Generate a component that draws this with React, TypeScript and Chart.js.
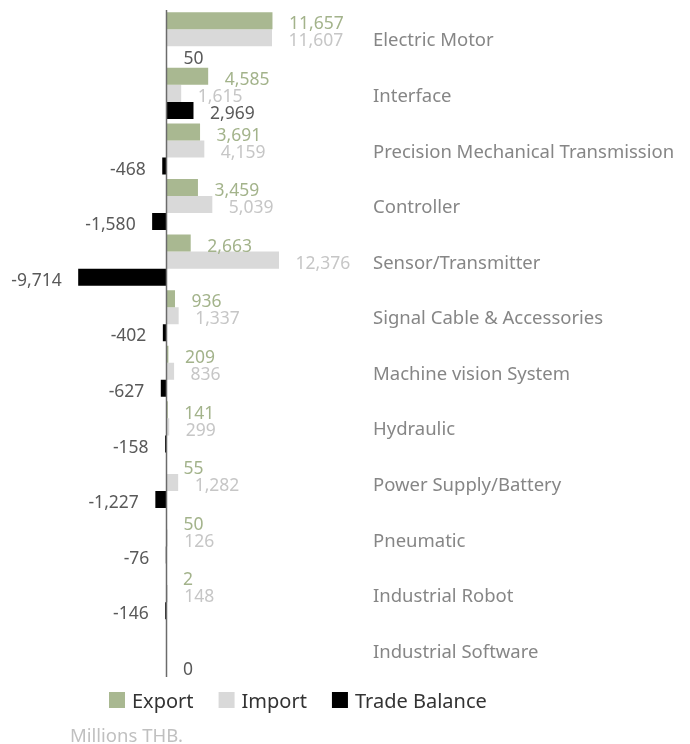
import React, { useEffect, useRef } from "react";
import { Chart, registerables } from "chart.js";

Chart.register(...registerables);

const categories = [
  "Electric Motor",
  "Interface",
  "Precision Mechanical Transmission",
  "Controller",
  "Sensor/Transmitter",
  "Signal Cable & Accessories",
  "Machine vision System",
  "Hydraulic",
  "Power Supply/Battery",
  "Pneumatic",
  "Industrial Robot",
  "Industrial Software",
];

const exportValues: (number | null)[] = [11657, 4585, 3691, 3459, 2663, 936, 209, 141, 55, 50, 2, null];
const importValues: (number | null)[] = [11607, 1615, 4159, 5039, 12376, 1337, 836, 299, 1282, 126, 148, null];
const balanceValues: (number | null)[] = [50, 2969, -468, -1580, -9714, -402, -627, -158, -1227, -76, -146, 0];

const seriesNames = ["Export", "Import", "Trade Balance"];
const unitNote = "Millions THB.";

const FONT = '"Noto Sans", sans-serif';
const barColors = ["#a9b891", "#d9d9d9", "#000000"];
const labelColors = ["#a3b38b", "#c6c6c6", "#595959"];

const fmt = (v: number) => v.toLocaleString("en-US");

const overlay = {
  id: "overlay",
  afterDatasetsDraw(chart: any) {
    const ctx: CanvasRenderingContext2D = chart.ctx;
    const xs = chart.scales.x;
    const ys = chart.scales.y;
    const area = chart.chartArea;
    const zero = xs.getPixelForValue(0);
    ctx.save();

    // zero axis line
    ctx.strokeStyle = "#6b6b6b";
    ctx.lineWidth = 1.5;
    ctx.beginPath();
    ctx.moveTo(zero, area.top);
    ctx.lineTo(zero, area.bottom);
    ctx.stroke();

    // data labels
    ctx.textBaseline = "alphabetic";
    ctx.font = `17.5px ${FONT}`;
    chart.data.datasets.forEach((ds: any, di: number) => {
      const meta = chart.getDatasetMeta(di);
      ctx.fillStyle = labelColors[di];
      meta.data.forEach((el: any, i: number) => {
        const v = ds.data[i];
        if (v === null || v === undefined) return;
        const by = el.y + 8.7;
        if (v < 0) {
          ctx.textAlign = "right";
          ctx.fillText(fmt(v), el.x - 16.5, by);
        } else {
          ctx.textAlign = "left";
          ctx.fillText(fmt(v), el.x + 16.5, by);
        }
      });
    });

    // category labels
    ctx.font = `18.5px ${FONT}`;
    ctx.fillStyle = "#868686";
    ctx.textAlign = "left";
    categories.forEach((c, i) => {
      ctx.fillText(c, 373, ys.getPixelForValue(i) + 8.6);
    });

    // legend
    ctx.font = `20px ${FONT}`;
    let lx = 109;
    seriesNames.forEach((name, i) => {
      ctx.fillStyle = barColors[i];
      ctx.fillRect(lx, 692, 16, 16);
      ctx.fillStyle = "#333333";
      ctx.fillText(name, lx + 23, 708);
      lx += 23 + ctx.measureText(name).width + 25;
    });

    // unit note
    ctx.font = `18.5px ${FONT}`;
    ctx.fillStyle = "#c0c0c0";
    ctx.fillText(unitNote, 70, 742);

    ctx.restore();
  },
};

export default function App() {
  const ref = useRef<HTMLCanvasElement | null>(null);
  useEffect(() => {
    if (!ref.current) return;
    const chart = new Chart(ref.current, {
      type: "bar",
      data: {
        labels: categories,
        datasets: [
          { label: seriesNames[0], data: exportValues, backgroundColor: barColors[0] },
          { label: seriesNames[1], data: importValues, backgroundColor: barColors[1] },
          { label: seriesNames[2], data: balanceValues, backgroundColor: barColors[2] },
        ],
      },
      options: {
        indexAxis: "y",
        responsive: false,
        animation: false,
        devicePixelRatio: 1,
        categoryPercentage: 0.92,
        barPercentage: 1,
        layout: { padding: { left: 11.5, right: 328.5, top: 10, bottom: 67 } },
        scales: {
          x: { display: false, min: -17050, max: 21450 },
          y: { display: false },
        },
        plugins: {
          legend: { display: false },
          tooltip: { enabled: false },
        },
      } as any,
      plugins: [overlay],
    });
    return () => chart.destroy();
  }, []);
  return (
    <div style={{ position: "absolute", left: 0, top: 0, width: 690, height: 744, background: "#fff" }}>
      <canvas ref={ref} width={690} height={744} style={{ display: "block" }} />
    </div>
  );
}
